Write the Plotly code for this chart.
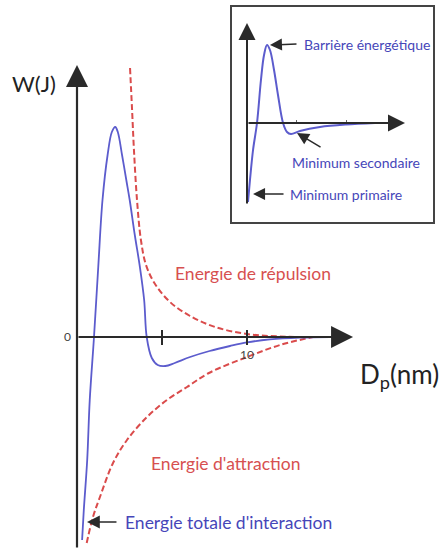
import plotly.graph_objects as go

# ---- Data (schematic DLVO curves, arbitrary units) ----
# Main chart: distance D_p (nm) and energy W (arbitrary)
total_x = [0.3, 0.4, 0.6, 0.75, 1.0, 1.25, 1.5, 1.8, 2.05, 2.25, 2.4, 2.65, 2.9, 3.1, 3.4,
           3.7, 3.95, 4.1, 4.4, 4.75, 5.2, 5.75, 6.65, 7.8, 9.0, 10.0, 11.35, 13.1, 14.9]
total_w = [-10.15, -8.65, -6.15, -3.15, 0.0, 3.5, 6.85, 9.1, 10.25, 10.5, 10.25, 9.1, 7.85, 6.85, 5.1,
           3.5, 1.85, 0.0, -1.05, -1.4, -1.45, -1.3, -1.0, -0.7, -0.45, -0.27, -0.12, -0.03, 0.0]

repulsion_x = [3.12, 3.24, 3.35, 3.53, 3.76, 4.06, 4.59, 5.47, 6.65, 8.12, 10.0, 11.94, 14.29]
repulsion_w = [13.45, 11.35, 9.35, 6.85, 4.85, 3.6, 2.65, 1.75, 1.05, 0.5, 0.15, 0.025, 0.0]

attraction_x = [0.57, 0.94, 1.35, 2.12, 2.94, 4.12, 5.29, 6.47, 7.76, 10.0, 11.94, 13.88]
attraction_w = [-10.3, -9.0, -8.0, -6.3, -5.15, -4.0, -3.15, -2.5, -1.8, -1.0, -0.4, 0.0]

# Inset chart
inset_x = [0.10, 0.30, 0.61, 1.01, 1.41, 1.72, 2.02, 2.32, 2.73, 3.13, 3.64, 4.04, 4.44, 5.35, 7.37, 10.0, 12.93]
inset_w = [-7.9, -5.7, -2.7, 0.0, 4.3, 6.8, 7.8, 7.3, 5.3, 2.8, 0.0, -0.9, -1.1, -0.8, -0.4, -0.15, 0.0]

main_ticks = [5, 10]
main_tick_labels = ["", "10"]
inset_ticks = [5, 10]

FONT = "Lato"
BLUE_LINE = "rgb(92,92,205)"
RED_LINE = "rgb(218,75,75)"
BLUE_TXT = "rgb(70,70,185)"
RED_TXT = "rgb(215,80,80)"
AX = "#2a2a2a"

W, H = 441, 549
# main axes: pixel mapping x_px = 77 + 17*x, y_px = 337 - 20*w
x_range = [-77 / 17, (W - 77) / 17]
y_range = [(337 - H) / 20, 337 / 20]
# inset axes: x_px = 247 + 9.9*x, y_px = 123 - 10*w, box px 232..433 x 7..222
ix_range = [(232 - 247) / 9.9, (433 - 247) / 9.9]
iy_range = [(123 - 222) / 10, (123 - 7) / 10]

fig = go.Figure()

fig.add_trace(go.Scatter(x=repulsion_x, y=repulsion_w, mode="lines", line_shape="spline",
                         line=dict(color=RED_LINE, width=2, dash="6px,3px"),
                         xaxis="x", yaxis="y", hoverinfo="skip"))
fig.add_trace(go.Scatter(x=attraction_x, y=attraction_w, mode="lines", line_shape="spline",
                         line=dict(color=RED_LINE, width=2, dash="6px,3px"),
                         xaxis="x", yaxis="y", hoverinfo="skip"))
fig.add_trace(go.Scatter(x=total_x, y=total_w, mode="lines", line_shape="spline",
                         line=dict(color=BLUE_LINE, width=1.8),
                         xaxis="x", yaxis="y", hoverinfo="skip"))
fig.add_trace(go.Scatter(x=inset_x, y=inset_w, mode="lines", line_shape="spline",
                         line=dict(color=BLUE_LINE, width=2),
                         xaxis="x2", yaxis="y2", hoverinfo="skip"))
# invisible traces so helper tick axes render
fig.add_trace(go.Scatter(x=[None], y=[None], xaxis="x3", yaxis="y", showlegend=False))
fig.add_trace(go.Scatter(x=[None], y=[None], xaxis="x4", yaxis="y2", showlegend=False))

ann = []

def arrow(x, y, ax, ay, xr, yr, width=2, size=2.0, head=2):
    ann.append(dict(x=x, y=y, ax=ax, ay=ay, xref=xr, yref=yr, axref=xr, ayref=yr,
                    text="", showarrow=True, arrowhead=head, arrowsize=size,
                    arrowwidth=width, arrowcolor=AX, standoff=0, startstandoff=0))

def label(x, y, text, xr, yr, color, size, xanchor="center"):
    ann.append(dict(x=x, y=y, xref=xr, yref=yr, text=text, showarrow=False,
                    xanchor=xanchor, yanchor="middle",
                    font=dict(family=FONT, size=size, color=color)))

# main axis arrows
arrow(0, 13.6, 0, y_range[0], "x", "y", width=2.2, size=2.0)
arrow(16.24, 0, 0, 0, "x", "y", width=2.2, size=2.0)
# inset axis arrows
arrow(0, 10.0, 0, -8.2, "x2", "y2", width=2, size=1.7)
arrow(15.96, 0, 0, 0, "x2", "y2", width=2, size=1.7)

# labels
label(10.35, 3.2, "Energie de répulsion", "x", "y", RED_TXT, 17.5)
label(8.76, -6.3, "Energie d'attraction", "x", "y", RED_TXT, 17.5)
arrow(0.59, -9.25, 2.41, -9.25, "x", "y", width=1.6, size=1.6)
label(2.7, -9.25, "Energie totale d'interaction", "x", "y", BLUE_TXT, 17.5, xanchor="left")

arrow(2.32, 7.8, 5.15, 7.9, "x2", "y2", width=1.5, size=1.6)
label(5.6, 7.9, "Barrière énergétique", "x2", "y2", BLUE_TXT, 14, xanchor="left")
arrow(5.05, -1.0, 7.58, -2.5, "x2", "y2", width=1.5, size=1.6)
label(4.3, -3.9, "Minimum secondaire", "x2", "y2", BLUE_TXT, 14, xanchor="left")
arrow(0.61, -7.1, 3.84, -7.1, "x2", "y2", width=1.5, size=1.6)
label(4.1, -7.1, "Minimum primaire", "x2", "y2", BLUE_TXT, 14, xanchor="left")

ann.append(dict(x=34 / W, y=1 - 83 / H, xref="paper", yref="paper", text="W(J)",
                xanchor="center", yanchor="middle",
                showarrow=False, font=dict(family=FONT, size=22, color="#222")))
ann.append(dict(x=399 / W, y=1 - 375 / H, xref="paper", yref="paper", text="D<sub>p</sub>(nm)",
                xanchor="center", yanchor="middle",
                showarrow=False, font=dict(family=FONT, size=26, color="#222")))

x_pos = 1 - 337 / H
ix_pos = 1 - 123 / H

fig.update_layout(
    width=W, height=H,
    margin=dict(l=0, r=0, t=0, b=0, pad=0, autoexpand=False),
    paper_bgcolor="white", plot_bgcolor="rgba(0,0,0,0)",
    showlegend=False,
    xaxis=dict(domain=[0, 1], range=x_range, anchor="free", position=x_pos, automargin=False,
               showline=False, showgrid=False, zeroline=False,
               tickvals=main_ticks, ticktext=main_tick_labels, ticks="outside",
               ticklen=7, tickwidth=2, tickcolor=AX,
               tickfont=dict(family=FONT, size=12, color="#444")),
    xaxis3=dict(range=x_range, overlaying="x", anchor="free", position=x_pos, automargin=False,
                showline=False, showgrid=False, zeroline=False,
                tickvals=main_ticks, ticks="inside", ticklen=7, tickwidth=2,
                tickcolor=AX, showticklabels=False),
    yaxis=dict(domain=[0, 1], range=y_range, anchor="free", position=77 / W, automargin=False,
               showline=False, showgrid=False, zeroline=False,
               tickvals=[0], ticktext=["0"], ticks="", ticklabelstandoff=6,
               tickfont=dict(family=FONT, size=12, color="#444")),
    xaxis2=dict(domain=[232 / W, 433 / W], range=ix_range, anchor="y2", automargin=False,
                showline=True, mirror=True, linecolor="#444", linewidth=1.5,
                showgrid=False, zeroline=False, showticklabels=False, ticks=""),
    yaxis2=dict(domain=[1 - 222 / H, 1 - 7 / H], range=iy_range, anchor="x2", automargin=False,
                showline=True, mirror=True, linecolor="#444", linewidth=1.5,
                showgrid=False, zeroline=False, showticklabels=False, ticks=""),
    xaxis4=dict(range=ix_range, overlaying="x2", anchor="free", position=ix_pos, automargin=False,
                domain=[232 / W, 433 / W],
                showline=False, showgrid=False, zeroline=False,
                tickvals=inset_ticks, ticks="inside", ticklen=3, tickwidth=1,
                tickcolor="#666", showticklabels=False),
    annotations=ann,
)

fig.write_html("out.html", config={"displayModeBar": False},
               post_script="document.body.style.margin='0';document.body.style.overflow='hidden';")
